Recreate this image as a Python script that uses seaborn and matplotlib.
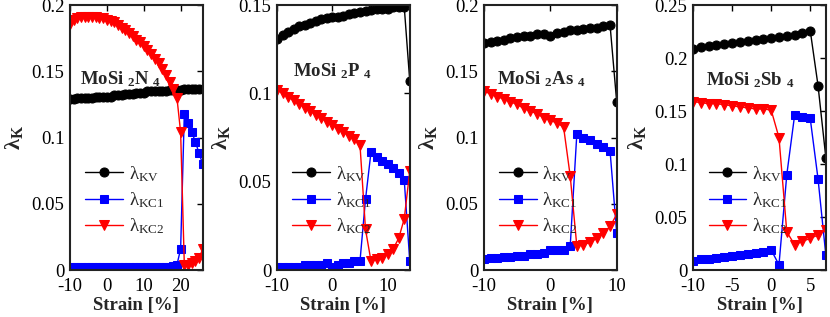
import matplotlib
matplotlib.use('Agg')
import matplotlib.pyplot as plt
import seaborn as sns
import pandas as pd
from matplotlib.ticker import FuncFormatter

# ---- MoSi2N4 ----
strain_n = list(range(-10, 27))
kv_n = [0.129, 0.129, 0.130, 0.130, 0.130, 0.130, 0.130, 0.131, 0.131, 0.131,
        0.131, 0.131, 0.132, 0.132, 0.132, 0.133, 0.133, 0.133, 0.134, 0.134,
        0.134, 0.135, 0.135, 0.135, 0.135, 0.135, 0.135, 0.136, 0.136, 0.136,
        0.136, 0.137, 0.137, 0.137, 0.137, 0.137, 0.137]
kc1_n = [0.002] * 28 + [0.003, 0.004, 0.016, 0.118, 0.111, 0.104, 0.097, 0.088, 0.080]
kc2_n = [0.186, 0.189, 0.190, 0.191, 0.191, 0.191, 0.191, 0.191, 0.190, 0.190,
         0.189, 0.188, 0.187, 0.185, 0.183, 0.181, 0.179, 0.177, 0.174, 0.172,
         0.169, 0.166, 0.163, 0.159, 0.156, 0.152, 0.147, 0.142, 0.137, 0.130,
         0.104, 0.004, 0.004, 0.005, 0.007, 0.009, 0.016]

# ---- MoSi2P4 ----
strain_p = list(range(-10, 15))
kv_p = [0.131, 0.133, 0.135, 0.1365, 0.138, 0.139, 0.140, 0.141, 0.142, 0.1425,
        0.143, 0.1435, 0.144, 0.145, 0.1455, 0.146, 0.1465, 0.147, 0.1475, 0.148,
        0.148, 0.149, 0.149, 0.149, 0.107]
kc1_p = [0.002, 0.002, 0.002, 0.002, 0.002, 0.003, 0.003, 0.003, 0.003, 0.004,
         0.002, 0.003, 0.004, 0.004, 0.005, 0.005, 0.040, 0.067, 0.064, 0.062,
         0.060, 0.058, 0.055, 0.051, 0.005]
kc2_p = [0.102, 0.100, 0.098, 0.096, 0.094, 0.092, 0.090, 0.088, 0.086, 0.084,
         0.082, 0.080, 0.078, 0.076, 0.074, 0.071, 0.023, 0.005, 0.006, 0.007,
         0.009, 0.012, 0.018, 0.029, 0.056]

# ---- MoSi2As4 ----
strain_as = list(range(-10, 11))
kv_as = [0.171, 0.172, 0.173, 0.174, 0.175, 0.176, 0.177, 0.177, 0.178, 0.178,
         0.177, 0.179, 0.180, 0.181, 0.181, 0.182, 0.183, 0.183, 0.184, 0.185,
         0.127]
kc1_as = [0.008, 0.009, 0.009, 0.010, 0.010, 0.011, 0.011, 0.012, 0.012, 0.013,
          0.015, 0.015, 0.015, 0.018, 0.103, 0.100, 0.098, 0.095, 0.093, 0.090,
          0.028]
kc2_as = [0.135, 0.133, 0.131, 0.129, 0.127, 0.125, 0.122, 0.120, 0.118, 0.115,
          0.113, 0.111, 0.108, 0.071, 0.018, 0.019, 0.021, 0.024, 0.028, 0.033,
          0.042]

# ---- MoSi2Sb4 ----
strain_sb = list(range(-10, 8))
kv_sb = [0.209, 0.210, 0.211, 0.212, 0.213, 0.214, 0.215, 0.216, 0.217, 0.218,
         0.219, 0.220, 0.221, 0.222, 0.224, 0.226, 0.174, 0.106]
kc1_sb = [0.009, 0.010, 0.010, 0.011, 0.012, 0.013, 0.014, 0.015, 0.016, 0.017,
          0.019, 0.005, 0.090, 0.146, 0.144, 0.143, 0.086, 0.014]
kc2_sb = [0.159, 0.158, 0.157, 0.157, 0.156, 0.155, 0.154, 0.153, 0.152, 0.152,
          0.151, 0.125, 0.036, 0.024, 0.027, 0.030, 0.033, 0.038]

panels = [
    ("MoSi $_\\mathregular{2}$N $_\\mathregular{4}$", strain_n, kv_n, kc1_n, kc2_n,
     (-10, 26), [-10, 0, 10, 20], (0, 0.2), [0, 0.05, 0.1, 0.15, 0.2], (0.075, 0.72)),
    ("MoSi $_\\mathregular{2}$P $_\\mathregular{4}$", strain_p, kv_p, kc1_p, kc2_p,
     (-10, 14), [-10, 0, 10], (0, 0.15), [0, 0.05, 0.1, 0.15], (0.12, 0.75)),
    ("MoSi $_\\mathregular{2}$As $_\\mathregular{4}$", strain_as, kv_as, kc1_as, kc2_as,
     (-10, 10), [-10, 0, 10], (0, 0.2), [0, 0.05, 0.1, 0.15, 0.2], (0.10, 0.72)),
    ("MoSi $_\\mathregular{2}$Sb $_\\mathregular{4}$", strain_sb, kv_sb, kc1_sb, kc2_sb,
     (-10, 7), [-10, -5, 0, 5], (0, 0.25), [0, 0.05, 0.1, 0.15, 0.2, 0.25], (0.10, 0.715)),
]

sns.set_theme(style='white')
plt.rcParams['font.family'] = ['Liberation Serif', 'DejaVu Serif']
plt.rcParams['mathtext.fontset'] = 'custom'
plt.rcParams['mathtext.rm'] = 'Liberation Serif'
plt.rcParams['mathtext.it'] = 'Liberation Serif:italic'
plt.rcParams['mathtext.bf'] = 'Liberation Serif:bold'
plt.rcParams['axes.unicode_minus'] = False

fig = plt.figure(figsize=(8.3, 3.17), dpi=100)
lefts = [0.0843, 0.3337, 0.583, 0.835]
fs = 13.5

for left, (name, x, kv, kc1, kc2, xlim, xticks, ylim, yticks, tpos) in zip(lefts, panels):
    ax = fig.add_axes([left, 0.148, 0.160, 0.836])
    df = pd.DataFrame({'strain': x, 'kv': kv, 'kc1': kc1, 'kc2': kc2})
    sns.lineplot(data=df, x='strain', y='kv', ax=ax, color='black', marker='o',
                 markersize=6.5, markeredgecolor='black', linewidth=1,
                 label='λ$_\\mathregular{KV}$')
    sns.lineplot(data=df, x='strain', y='kc1', ax=ax, color='#0000ff', marker='s',
                 markersize=5.5, markeredgecolor='#0000ff', linewidth=1,
                 label='λ$_\\mathregular{KC1}$')
    sns.lineplot(data=df, x='strain', y='kc2', ax=ax, color='#ff0000', marker='v',
                 markersize=7, markeredgecolor='#ff0000', linewidth=1,
                 label='λ$_\\mathregular{KC2}$')

    ax.set_xlim(*xlim)
    ax.set_ylim(*ylim)
    ax.set_xticks(xticks)
    ax.set_yticks(yticks)
    ax.yaxis.set_major_formatter(FuncFormatter(lambda v, p: '%g' % v))
    ax.tick_params(direction='in', top=True, right=True, length=4, width=1,
                   colors='black', labelsize=fs)
    ax.tick_params(axis='x', pad=6)
    ax.tick_params(axis='y', pad=4)
    for sp in ax.spines.values():
        sp.set_color('#222222')
        sp.set_linewidth(1.5)

    ax.set_xlabel('Strain [%]', fontsize=fs, fontweight='bold', labelpad=1)
    ax.set_ylabel('λ$_\\mathregular{K}$', fontsize=16, fontweight='bold')
    ax.yaxis.set_label_coords(-0.34, 0.5)

    ax.text(tpos[0], tpos[1], name, transform=ax.transAxes, fontsize=fs,
            fontweight='bold', va='center', ha='left')

    ax.legend(loc='lower left', bbox_to_anchor=(0.06, 0.10), frameon=False,
              fontsize=fs, handlelength=2.0, handletextpad=0.3, labelspacing=0.35,
              borderaxespad=0)

fig.savefig('out.png', dpi=100)
